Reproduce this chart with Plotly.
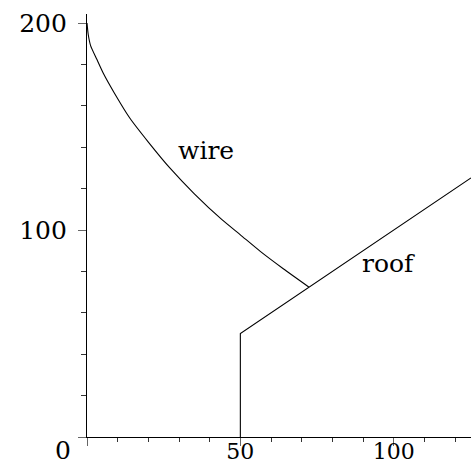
import plotly.graph_objects as go

# wire curve
wire_x = [0, 0.4, 1.2, 3.2, 5.4, 9, 14, 20, 27, 35, 44, 50, 56.5, 64, 72.3]
wire_y = [200, 194.5, 189, 182.5, 175.5, 166, 154, 142.5, 130, 117.5, 105, 97.7, 89.7, 81.3, 72.5]

# roof outline
roof_x = [50, 50, 125.2]
roof_y = [0, 50, 125.2]

# ticks
x_tickvals = [0, 50, 100]
x_ticktext = ["", "50", "100"]
y_tickvals = [0, 100, 200]
y_ticktext = ["", "100", "200"]

FONT = "DejaVu Serif"
FS = 25

fig = go.Figure()
fig.add_trace(go.Scatter(x=wire_x, y=wire_y, mode="lines",
                         line=dict(color="black", width=1.1, shape="spline", smoothing=0.6),
                         hoverinfo="skip"))
fig.add_trace(go.Scatter(x=roof_x, y=roof_y, mode="lines",
                         line=dict(color="black", width=1.1), hoverinfo="skip"))

fig.update_layout(
    width=471, height=466,
    margin=dict(l=87, r=0, t=14, b=29, autoexpand=False),
    paper_bgcolor="white", plot_bgcolor="white",
    showlegend=False,
    font=dict(family=FONT, size=FS, color="black"),
    xaxis=dict(range=[0, 125.2], showgrid=False, zeroline=False, automargin=False,
               showline=True, linecolor="black", linewidth=1.2,
               tickmode="array", tickvals=x_tickvals, ticktext=x_ticktext,
               ticks="outside", ticklen=8, tickcolor="#666", tickwidth=1,
               minor=dict(dtick=10, ticks="outside", ticklen=4, tickcolor="#333", tickwidth=1, tick0=0),
               tickfont=dict(family=FONT, size=22, color="black"),
               ticklabelstandoff=-14, fixedrange=True),
    yaxis=dict(range=[0, 204.4], showgrid=False, zeroline=False, automargin=False,
               showline=True, linecolor="black", linewidth=1.2,
               tickmode="array", tickvals=y_tickvals, ticktext=y_ticktext,
               ticks="outside", ticklen=8, tickcolor="#666", tickwidth=1,
               minor=dict(dtick=20, ticks="outside", ticklen=5, tickcolor="#333", tickwidth=1, tick0=0),
               tickfont=dict(family=FONT, size=FS, color="black"),
               ticklabelstandoff=6, fixedrange=True),
    annotations=[
        dict(x=0, y=0, xref="x", yref="y", text="0", showarrow=False,
             xanchor="center", yanchor="middle", xshift=-24, yshift=-13,
             font=dict(family=FONT, size=FS, color="black")),
        dict(x=38.9, y=138.3, xref="x", yref="y", text="wire", showarrow=False,
             xanchor="center", yanchor="middle",
             font=dict(family=FONT, size=FS, color="black")),
        dict(x=98.2, y=83.7, xref="x", yref="y", text="roof", showarrow=False,
             xanchor="center", yanchor="middle",
             font=dict(family=FONT, size=FS, color="black")),
    ],
)

fig.write_html("out.html", config={"displayModeBar": False},
               post_script="document.body.style.margin='0';document.body.style.overflow='hidden';")
